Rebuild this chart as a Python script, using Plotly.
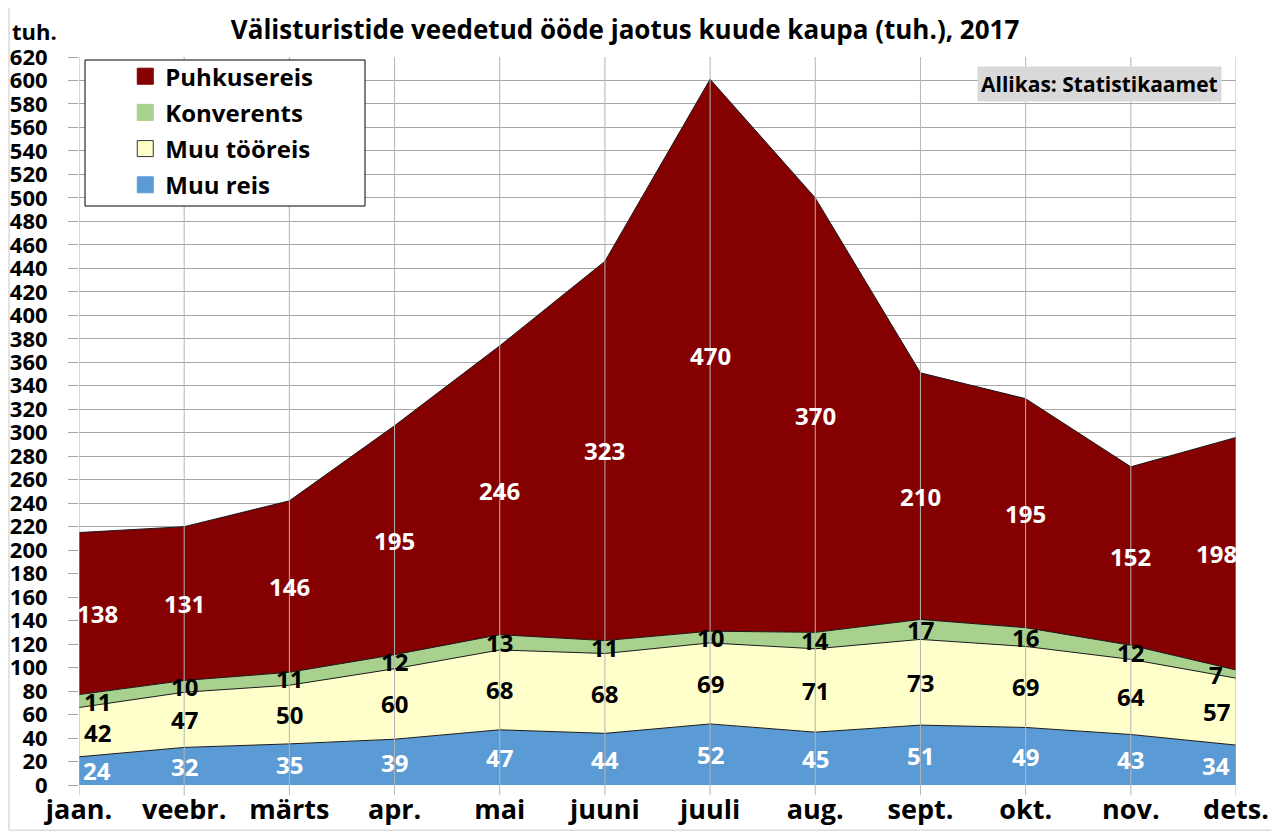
import plotly.graph_objects as go

# data (tuh. ööd), 2017
months = ["jaan.", "veebr.", "märts", "apr.", "mai", "juuni",
          "juuli", "aug.", "sept.", "okt.", "nov.", "dets."]
muu_reis = [24, 32, 35, 39, 47, 44, 52, 45, 51, 49, 43, 34]
muu_tooreis = [42, 47, 50, 60, 68, 68, 69, 71, 73, 69, 64, 57]
konverents = [11, 10, 11, 12, 13, 11, 10, 14, 17, 16, 12, 7]
puhkusereis = [138, 131, 146, 195, 246, 323, 470, 370, 210, 195, 152, 198]

series = [
    ("Muu reis", muu_reis, "#5b9bd5", "white"),
    ("Muu tööreis", muu_tooreis, "#ffffcc", "black"),
    ("Konverents", konverents, "#a9d18e", "black"),
    ("Puhkusereis", puhkusereis, "#850000", "white"),
]

FONT = "'Open Sans', sans-serif"
x = list(range(len(months)))

fig = go.Figure()
base = [0] * len(months)
annotations = []
for name, vals, color, txt_color in series:
    fig.add_trace(go.Scatter(
        x=x, y=vals, name=name, stackgroup="one", mode="lines",
        line=dict(color="#1a1a1a", width=1), fillcolor=color,
        hoverinfo="skip", showlegend=False,
    ))
    # value labels in the middle of each band
    for i, v in enumerate(vals):
        shift = 18 if i == 0 else (-20 if i == len(vals) - 1 else 0)
        annotations.append(dict(
            x=i, y=base[i] + v / 2, text="<b>%d</b>" % v, showarrow=False,
            xshift=shift, font=dict(size=24, color=txt_color, family=FONT),
        ))
    base = [b + v for b, v in zip(base, vals)]

# legend entries with square swatches, top series first
for name, vals, color, txt_color in reversed(series):
    edge = "#333333" if color == "#ffffcc" else color
    fig.add_trace(go.Scatter(
        x=[None], y=[None], name="<b>%s</b>" % name, mode="markers",
        legendgroup=name,
        marker=dict(symbol="square", size=17, color=color, line=dict(color=edge, width=1)),
    ))

# vertical gridlines drawn over the areas
shapes = [dict(type="line", xref="x", yref="paper", x0=i, x1=i, y0=-0.014, y1=1,
               line=dict(color="#b4b4b4", width=1), layer="above") for i in x]
# legend frame
shapes.append(dict(type="rect", xref="paper", yref="paper", x0=0.0052, x1=0.2472,
                   y0=0.7953, y1=0.9959, fillcolor="white",
                   line=dict(color="black", width=1), layer="above"))
# outer frame
shapes.append(dict(type="rect", xref="paper", yref="paper", x0=-0.0605, x1=1.0337,
                   y0=-0.062, y1=1.070, line=dict(color="#c8c8c8", width=1)))

annotations += [
    dict(text="<b>tuh.</b>", xref="paper", yref="paper", x=-0.0596, y=1.036,
         xanchor="left", yanchor="middle", showarrow=False,
         font=dict(size=22, color="black", family=FONT)),
    dict(text="<b>Allikas: Statistikaamet</b>", xref="paper", yref="paper",
         x=0.988, y=0.988, xanchor="right", yanchor="top", showarrow=False,
         bgcolor="#d9d9d9", borderpad=3,
         font=dict(size=21, color="black", family=FONT)),
]

fig.update_layout(
    width=1271, height=824,
    margin=dict(l=71, r=43, t=49, b=47),
    paper_bgcolor="white", plot_bgcolor="white",
    font=dict(family=FONT, color="black"),
    title=dict(text="<b>Välisturistide veedetud ööde jaotus kuude kaupa (tuh.), 2017</b>",
               x=0.4855, xanchor="center", y=0.973, yanchor="middle",
               font=dict(size=26, color="black", family=FONT)),
    showlegend=True,
    legend=dict(x=0.04, y=1.004, xanchor="left", yanchor="top",
                traceorder="grouped", tracegroupgap=2,
                bgcolor="rgba(0,0,0,0)", borderwidth=0,
                font=dict(size=24, color="black", family=FONT)),
    annotations=annotations,
    shapes=shapes,
)
fig.update_xaxes(
    tickvals=x, ticktext=["<b>%s</b>" % m for m in months], range=[0, 11],
    showgrid=False, zeroline=False, showline=False, automargin=False,
    ticks="", ticklabelstandoff=6,
    tickfont=dict(size=27, family=FONT, color="black"),
)
fig.update_yaxes(
    range=[0, 620], dtick=20, tick0=0, showgrid=True, gridcolor="#a6a6a6",
    gridwidth=1, zeroline=False, showline=False, automargin=False,
    ticks="outside", ticklen=10, tickcolor="#a6a6a6", ticklabelstandoff=16,
    tickprefix="<b>", ticksuffix="</b>",
    tickfont=dict(size=22, family=FONT, color="black"),
)

fig.write_html("out.html")
